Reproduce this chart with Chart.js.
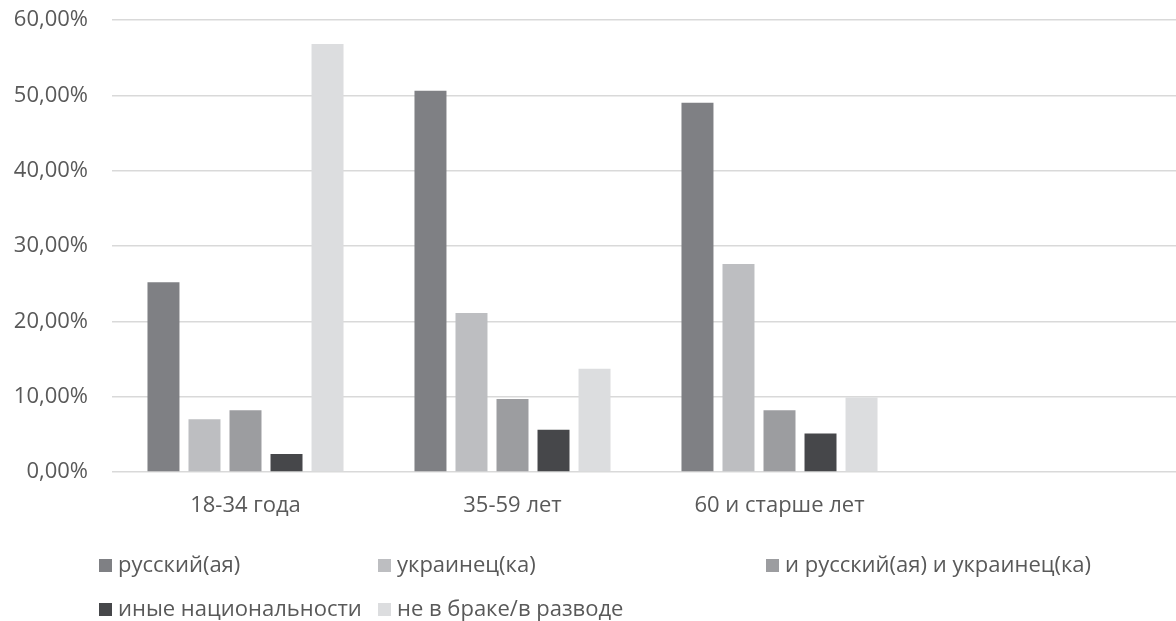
<!DOCTYPE html>
<html>
<head>
<meta charset="utf-8">
<script src="https://cdn.jsdelivr.net/npm/chart.js@4/dist/chart.umd.min.js"></script>
<style>
  html, body { margin: 0; padding: 0; background: #fff; overflow: hidden; width: 1176px; height: 621px; }
  #wrap { position: relative; width: 1176px; height: 621px; overflow: hidden; }
  canvas { position: absolute; left: 0; top: 0; }
  .leg { position: absolute; font-family: "Open Sans", sans-serif; font-size: 22px; color: #595959; white-space: nowrap; line-height: 26px; }
  .leg span.box { display: inline-block; width: 13px; height: 13px; margin-right: 6px; vertical-align: 0px; }
</style>
</head>
<body>
<div id="wrap">
  <canvas id="c" width="1180" height="621"></canvas>
  <div id="legend"></div>
</div>
<script>
const categories = ["18-34 года", "35-59 лет", "60 и старше лет", ""];
const seriesNames = ["русский(ая)", "украинец(ка)", "и русский(ая) и украинец(ка)", "иные национальности", "не в браке/в разводе"];
const russian   = [25.2, 50.6, 49.0, null];
const ukrainian = [7.0, 21.1, 27.6, null];
const both      = [8.2, 9.7, 8.2, null];
const others    = [2.4, 5.6, 5.1, null];
const unmarried = [56.8, 13.7, 9.9, null];
const yTicks = [0, 10, 20, 30, 40, 50, 60];

const colors = ["#7f8084", "#bdbec1", "#9c9da0", "#46474a", "#dcdddf"];
const values = [russian, ukrainian, both, others, unmarried];

const FONT = "'Open Sans', sans-serif";
const TEXT = "#595959";

const chart = new Chart(document.getElementById("c"), {
  type: "bar",
  data: {
    labels: categories,
    datasets: seriesNames.map((n, i) => ({
      label: n,
      data: values[i],
      backgroundColor: colors[i],
      borderWidth: 0,
      categoryPercentage: 0.768,
      barPercentage: 0.78
    }))
  },
  options: {
    responsive: false,
    animation: false,
    layout: { padding: { top: 20, left: 0, right: 0, bottom: 88 } },
    plugins: { legend: { display: false }, tooltip: { enabled: false } },
    scales: {
      x: {
        grid: { display: false, drawTicks: false },
        border: { display: false },
        ticks: { color: TEXT, font: { family: FONT, size: 22 }, padding: 21, maxRotation: 0 },
        afterFit: s => { s.height = 61; s.paddingLeft = 0; s.paddingRight = 0; }
      },
      y: {
        min: 0, max: 60,
        afterBuildTicks: s => { s.ticks = yTicks.map(v => ({ value: v })); },
        grid: { color: "#d9d9d9", lineWidth: 1.5, drawTicks: false },
        border: { display: false },
        ticks: {
          color: TEXT, font: { family: FONT, size: 22 }, padding: 24,
          callback: v => v.toFixed(2).replace(".", ",") + "%"
        },
        afterFit: s => { s.width = 112; s.paddingTop = 0; s.paddingBottom = 0; }
      }
    }
  }
});

// Legend in Excel-like grid
const legendPos = [[99, 550], [378, 550], [766, 550], [99, 594], [378, 594]];
const leg = document.getElementById("legend");
chart.data.datasets.forEach((ds, i) => {
  const d = document.createElement("div");
  d.className = "leg";
  d.style.left = legendPos[i][0] + "px";
  d.style.top = legendPos[i][1] + "px";
  const b = document.createElement("span");
  b.className = "box";
  b.style.background = ds.backgroundColor;
  d.appendChild(b);
  d.appendChild(document.createTextNode(ds.label));
  leg.appendChild(d);
});
</script>
</body>
</html>
